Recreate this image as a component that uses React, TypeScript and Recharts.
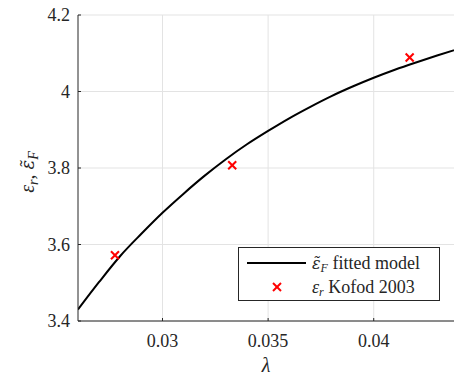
import React from "react";
import { ComposedChart, Line, Scatter, XAxis, YAxis, CartesianGrid, Label } from "recharts";

// fitted model
const MODEL_LAMBDA = [0.026, 0.027, 0.028, 0.029, 0.03, 0.031, 0.032, 0.033, 0.034, 0.035, 0.036, 0.037, 0.038, 0.039, 0.04, 0.041, 0.042, 0.043, 0.0438];
const MODEL_EPS = [3.43, 3.502, 3.57, 3.628, 3.683, 3.733, 3.78, 3.823, 3.862, 3.897, 3.93, 3.96, 3.988, 4.013, 4.036, 4.057, 4.076, 4.094, 4.108];

// Kofod 2003 measurements
const KOFOD_LAMBDA = [0.02775, 0.0333, 0.0417];
const KOFOD_EPS = [3.572, 3.807, 4.089];

const X_TICKS = [0.03, 0.035, 0.04];
const Y_TICKS = [3.4, 3.6, 3.8, 4, 4.2];

const FONT = "'Liberation Serif', 'DejaVu Serif', serif";
const MARK_FONT = "'DejaVu Serif', serif";
const INK = "#262626";

const modelRows = MODEL_LAMBDA.map((x, i) => ({ x, y: MODEL_EPS[i] }));
const kofodRows = KOFOD_LAMBDA.map((x, i) => ({ x, y: KOFOD_EPS[i] }));

function Cross(props: any) {
  const { cx, cy } = props;
  const s = 4;
  return (
    <g stroke="#ff0000" strokeWidth={2}>
      <line x1={cx - s} y1={cy - s} x2={cx + s} y2={cy + s} />
      <line x1={cx - s} y1={cy + s} x2={cx + s} y2={cy - s} />
    </g>
  );
}

function YTick(props: any) {
  const { x, y, payload } = props;
  return (
    <g>
      <line x1={x + 8} y1={y} x2={x + 11} y2={y} stroke={INK} />
      <text x={x} y={y} dy="0.34em" textAnchor="end" fill={INK} fontSize={18} fontFamily={FONT}>
        {String(payload.value)}
      </text>
    </g>
  );
}

function XTick(props: any) {
  const { x, y, payload } = props;
  return (
    <g>
      <line x1={x} y1={y - 13} x2={x} y2={y - 16} stroke={INK} />
      <text x={x} y={y} dy="0.71em" textAnchor="middle" fill={INK} fontSize={18} fontFamily={FONT}>
        {String(payload.value)}
      </text>
    </g>
  );
}

function YTitle() {
  return (
    <text
      transform="translate(34,172) rotate(-90)"
      textAnchor="middle"
      fill={INK}
      fontSize={20}
      fontFamily={FONT}
      fontStyle="italic"
    >
      ε<tspan fontSize={14} dy={4}>r</tspan>
      <tspan dy={-4} fontStyle="normal">, </tspan>
      <tspan fontFamily={MARK_FONT} fontSize={18}>ε̃</tspan>
      <tspan fontSize={14} dy={4}>F</tspan>
    </text>
  );
}

function XTitle() {
  return (
    <text x={266} y={372} textAnchor="middle" fill={INK} fontSize={20} fontFamily={FONT} fontStyle="italic">
      λ
    </text>
  );
}

export default function App() {
  return (
    <div style={{ position: "absolute", left: 0, top: 0, width: 454, height: 381, background: "#fff" }}>
      <ComposedChart width={454} height={381} margin={{ top: 15, right: 0, left: 0, bottom: 0 }}>
        <CartesianGrid stroke="#e3e3e3" horizontalValues={Y_TICKS} verticalValues={X_TICKS} />
        <XAxis
          type="number"
          dataKey="x"
          domain={[0.026, 0.0438]}
          ticks={X_TICKS}
          allowDataOverflow
          height={60}
          stroke={INK}
          tickLine={false}
          tickSize={0}
          tickMargin={13}
          tick={<XTick />}
        >
          <Label content={<XTitle />} />
        </XAxis>
        <YAxis
          type="number"
          dataKey="y"
          domain={[3.4, 4.2]}
          ticks={Y_TICKS}
          allowDataOverflow
          width={78}
          stroke={INK}
          tickLine={false}
          tickSize={0}
          tickMargin={8}
          tick={<YTick />}
        >
          <Label content={<YTitle />} />
        </YAxis>
        <Line
          data={modelRows}
          dataKey="y"
          type="monotone"
          stroke="#000"
          strokeWidth={2}
          dot={false}
          activeDot={false}
          isAnimationActive={false}
        />
        <Scatter data={kofodRows} dataKey="y" shape={<Cross />} isAnimationActive={false} />
      </ComposedChart>
      <div
        style={{
          position: "absolute",
          left: 238,
          top: 247,
          width: 200,
          height: 52,
          border: `1px solid ${INK}`,
          background: "#fff",
        }}
      >
        <svg width={200} height={52} style={{ position: "absolute", left: 0, top: 0 }}>
          <line x1={8} y1={15} x2={67} y2={15} stroke="#000" strokeWidth={2} />
          <g stroke="#ff0000" strokeWidth={2}>
            <line x1={34} y1={35} x2={42} y2={43} />
            <line x1={34} y1={43} x2={42} y2={35} />
          </g>
          <text x={73} y={21} fontSize={18} fontFamily={FONT} fill={INK}>
            <tspan fontStyle="italic" fontFamily={MARK_FONT} fontSize={16}>ε̃</tspan>
            <tspan fontStyle="italic" fontSize={12} dy={3}>F</tspan>
            <tspan dy={-3}> fitted model</tspan>
          </text>
          <text x={73} y={45} fontSize={18} fontFamily={FONT} fill={INK}>
            <tspan fontStyle="italic">ε</tspan>
            <tspan fontStyle="italic" fontSize={12} dy={3}>r</tspan>
            <tspan dy={-3}> Kofod 2003</tspan>
          </text>
        </svg>
      </div>
    </div>
  );
}
